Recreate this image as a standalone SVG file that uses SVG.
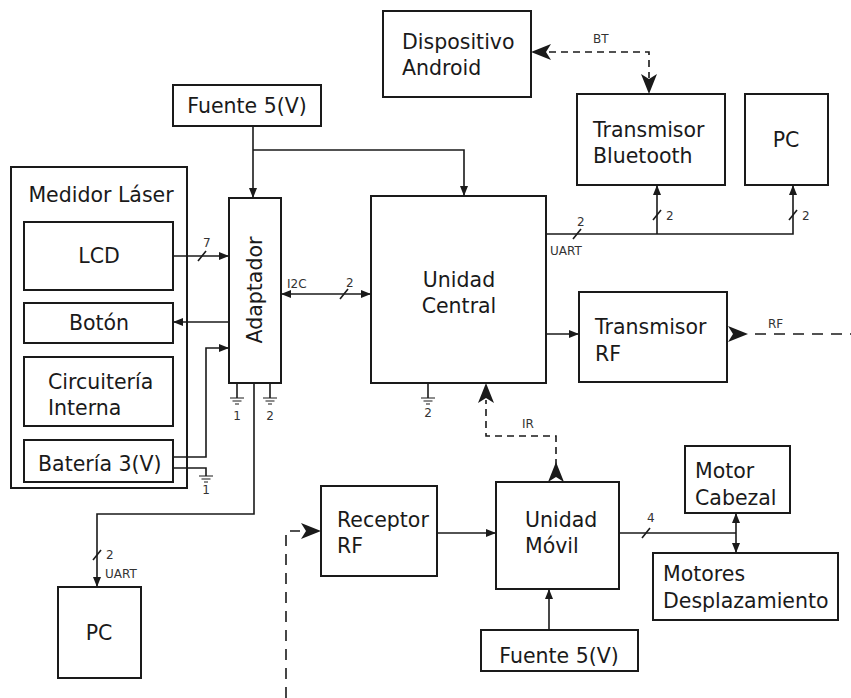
<svg xmlns="http://www.w3.org/2000/svg" width="851" height="698" viewBox="0 0 851 698">
<defs>
<style>
.box{fill:#fff;stroke:#1a1a1a;stroke-width:2}
.ln{fill:none;stroke:#1a1a1a;stroke-width:1.6}
.dash{fill:none;stroke:#1a1a1a;stroke-width:1.6;stroke-dasharray:7,5}
.dash2{fill:none;stroke:#1a1a1a;stroke-width:1.6;stroke-dasharray:11,8}
.t{font-family:"DejaVu Sans",Verdana,sans-serif;font-size:20.5px;fill:#1a1a1a}
.s{font-family:"DejaVu Sans",Verdana,sans-serif;font-size:12px;fill:#333}
.m{text-anchor:middle}
.gnd{fill:none;stroke:#1a1a1a;stroke-width:1.2}
</style>
<marker id="a" viewBox="0 0 10 8" refX="10" refY="4" markerWidth="10" markerHeight="8" markerUnits="userSpaceOnUse" orient="auto-start-reverse"><path d="M0,0 L10,4 L0,8 z" fill="#1a1a1a"/></marker>
<g id="gs"><path class="gnd" d="M-7,0 H7 M-4.5,3 H4.5 M-2,6 H2"/></g>
</defs>
<rect width="851" height="698" fill="#fff"/>

<g id="medidor">
<rect class="box" x="11" y="167" width="176" height="321"/>
<text class="t m" x="101" y="202">Medidor Láser</text>
</g>
<g id="lcd"><rect class="box" x="24" y="222" width="149" height="68"/><text class="t m" x="99" y="263">LCD</text></g>
<g id="boton"><rect class="box" x="24" y="303" width="149" height="40"/><text class="t m" x="99" y="330">Botón</text></g>
<g id="circuiteria"><rect class="box" x="24" y="357" width="149" height="69"/><text class="t" x="48" y="389">Circuitería</text><text class="t" x="48" y="415">Interna</text></g>
<g id="bateria"><rect class="box" x="24" y="440" width="149" height="42"/><text class="t" x="38" y="471">Batería 3(V)</text></g>

<g id="adaptador"><rect class="box" x="229" y="198" width="52" height="185"/><text class="t m" transform="rotate(-90 255 290)" x="255" y="297">Adaptador</text></g>
<g id="fuente1"><rect class="box" x="173" y="85" width="148" height="41"/><text class="t m" x="247" y="113">Fuente 5(V)</text></g>
<g id="central"><rect class="box" x="371" y="196" width="175" height="187"/><text class="t m" x="459" y="287">Unidad</text><text class="t m" x="459" y="313">Central</text></g>
<g id="android"><rect class="box" x="383" y="11" width="148" height="86"/><text class="t" x="402" y="49">Dispositivo</text><text class="t" x="402" y="75">Android</text></g>
<g id="bluetooth"><rect class="box" x="577" y="94" width="148" height="91"/><text class="t" x="593" y="137">Transmisor</text><text class="t" x="593" y="163">Bluetooth</text></g>
<g id="pc1"><rect class="box" x="745" y="94" width="83" height="91"/><text class="t m" x="786" y="147">PC</text></g>
<g id="trf"><rect class="box" x="579" y="292" width="148" height="90"/><text class="t" x="595" y="334">Transmisor</text><text class="t" x="595" y="361">RF</text></g>
<g id="receptor"><rect class="box" x="321" y="486" width="116" height="90"/><text class="t" x="337" y="527">Receptor</text><text class="t" x="337" y="553">RF</text></g>
<g id="movil"><rect class="box" x="496" y="482" width="123" height="107"/><text class="t" x="525" y="527">Unidad</text><text class="t" x="525" y="553">Móvil</text></g>
<g id="fuente2"><rect class="box" x="481" y="630" width="157" height="41"/><text class="t m" x="559" y="663">Fuente 5(V)</text></g>
<g id="cabezal"><rect class="box" x="685" y="446" width="105" height="67"/><text class="t" x="695" y="478">Motor</text><text class="t" x="695" y="505">Cabezal</text></g>
<g id="desplaz"><rect class="box" x="653" y="553" width="185" height="67"/><text class="t" x="663" y="581">Motores</text><text class="t" x="663" y="608">Desplazamiento</text></g>
<g id="pc2"><rect class="box" x="58" y="587" width="83" height="91"/><text class="t m" x="99" y="640">PC</text></g>

<g id="connectors">
<path class="ln" d="M253,126 V198" marker-end="url(#a)"/>
<path class="ln" d="M253,150 H464 V196" marker-end="url(#a)"/>
<path class="ln" d="M173,256 H229" marker-end="url(#a)"/>
<path class="ln" d="M198,261 L206,251"/>
<text class="s" x="203" y="247">7</text>
<path class="ln" d="M229,322 H173" marker-end="url(#a)"/>
<path class="ln" d="M173,457 H206 V348 H229" marker-end="url(#a)"/>
<path class="ln" d="M173,468 H206 V476"/>
<use href="#gs" x="206" y="476"/>
<text class="s m" x="206" y="494">1</text>
<path class="ln" d="M237,383 V398"/>
<use href="#gs" x="237" y="398"/>
<text class="s m" x="237" y="420">1</text>
<path class="ln" d="M270,383 V398"/>
<use href="#gs" x="270" y="398"/>
<text class="s m" x="270" y="420">2</text>
<path class="ln" d="M428,383 V398"/>
<use href="#gs" x="428" y="398"/>
<text class="s m" x="428" y="417">2</text>
<path class="ln" d="M281,294 H371" marker-start="url(#a)" marker-end="url(#a)"/>
<text class="s" x="287" y="288">I2C</text>
<path class="ln" d="M340,299 L348,289"/>
<text class="s" x="346" y="287">2</text>
<path class="ln" d="M254,383 V514 H97 V587" marker-end="url(#a)"/>
<path class="ln" d="M93,560 L101,550"/>
<text class="s" x="106" y="559">2</text>
<text class="s" x="105" y="578">UART</text>
<path class="ln" d="M546,234 H793 V185" marker-end="url(#a)"/>
<path class="ln" d="M657,234 V185" marker-end="url(#a)"/>
<path class="ln" d="M573,239 L581,229"/>
<text class="s" x="577" y="226">2</text>
<text class="s" x="550" y="255">UART</text>
<path class="ln" d="M653,220 L661,210"/>
<text class="s" x="666" y="220">2</text>
<path class="ln" d="M789,220 L797,210"/>
<text class="s" x="802" y="220">2</text>
<path class="dash" d="M549,52 H649 V78"/>
<path d="M531,52 L551,44 L546,52 L551,60 z" fill="#1a1a1a"/>
<path d="M649,94 L641,74 L649,79 L657,74 z" fill="#1a1a1a"/>
<text class="s" x="593" y="43">BT</text>
<path class="ln" d="M546,334 H579" marker-end="url(#a)"/>
<path d="M748,334 L728,326 L733,334 L728,342 z" fill="#1a1a1a"/>
<path class="dash2" d="M755,334 H851"/>
<text class="s" x="768" y="328">RF</text>
<path class="dash" d="M556,466 V436 H486 V400"/>
<path d="M486,383 L478,403 L486,398 L494,403 z" fill="#1a1a1a"/>
<path d="M556,462 L548,482 L556,477 L564,482 z" fill="#1a1a1a"/>
<text class="s" x="522" y="428">IR</text>
<path class="dash2" d="M286,698 V531 H300"/>
<path d="M321,531 L301,523 L306,531 L301,539 z" fill="#1a1a1a"/>
<path class="ln" d="M437,533 H496" marker-end="url(#a)"/>
<path class="ln" d="M549,630 V589" marker-end="url(#a)"/>
<path class="ln" d="M619,533 H736"/>
<path class="ln" d="M736,533 V513" marker-end="url(#a)"/>
<path class="ln" d="M736,533 V553" marker-end="url(#a)"/>
<path class="ln" d="M642,538 L650,528"/>
<text class="s" x="647" y="522">4</text>
</g>
</svg>
